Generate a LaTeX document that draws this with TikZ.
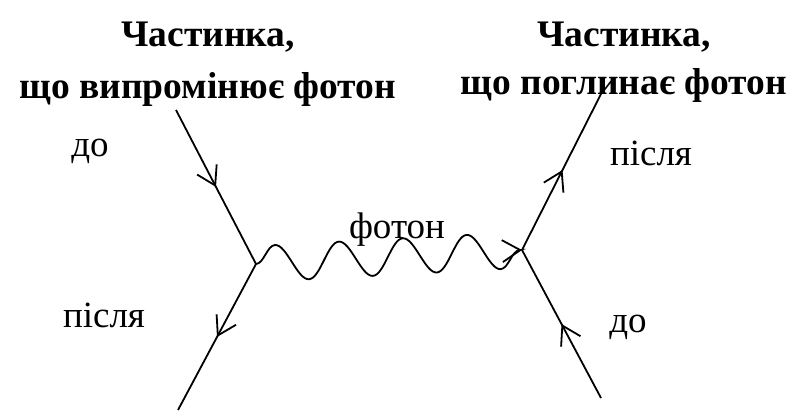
\documentclass[tikz,border=0pt]{standalone}
\usepackage{fontspec}
\setmainfont{Liberation Serif}
\usetikzlibrary{arrows.meta,decorations.pathmorphing,decorations.markings}

\begin{document}
\begin{tikzpicture}[x=1pt, y=-1pt, line width=1.8pt,
    barb/.tip={Straight Barb[length=18pt, width=22pt]},
    fermion/.style={postaction={decorate, decoration={markings,
        mark=at position 0.5 with {\arrow{barb}}}}},
    photon/.style={-barb, decorate, decoration={snake, amplitude=18pt, segment length=64pt}},
    lbl/.style={font=\fontsize{37}{44}\selectfont, anchor=base, inner sep=0pt},
    headline/.style={font=\fontsize{37.5}{52}\selectfont\bfseries, align=center, inner sep=0pt, anchor=north}]
  \useasboundingbox (0,0) rectangle (791,412);

  % vertices and free ends
  \coordinate (vemit) at (256,264);
  \coordinate (vabs) at (522,250);
  \coordinate (emitin) at (176,110);
  \coordinate (emitout) at (178,410);
  \coordinate (absin) at (601,398);
  \coordinate (absout) at (603,90);

  % particle lines
  \draw[fermion] (emitin) -- (vemit);
  \draw[fermion] (vemit) -- (emitout);
  \draw[fermion] (absin) -- (vabs);
  \draw[fermion] (vabs) -- (absout);

  % photon
  \draw[photon] (vemit) -- (vabs);

  % labels
  \node[headline] (emitter) at (208,21) {Частинка,\\що випромінює фотон};
  \node[headline] (absorber) at (624,21) {Частинка,\\[-4pt]що поглинає фотон};
  \node[lbl] (beforeL) at (90,156) {до};
  \node[lbl] (afterL) at (104,327) {після};
  \node[lbl] (afterR) at (651,165) {після};
  \node[lbl] (beforeR) at (628,332) {до};
  \node[lbl] (photonlbl) at (397,238) {фотон};
\end{tikzpicture}
\end{document}
